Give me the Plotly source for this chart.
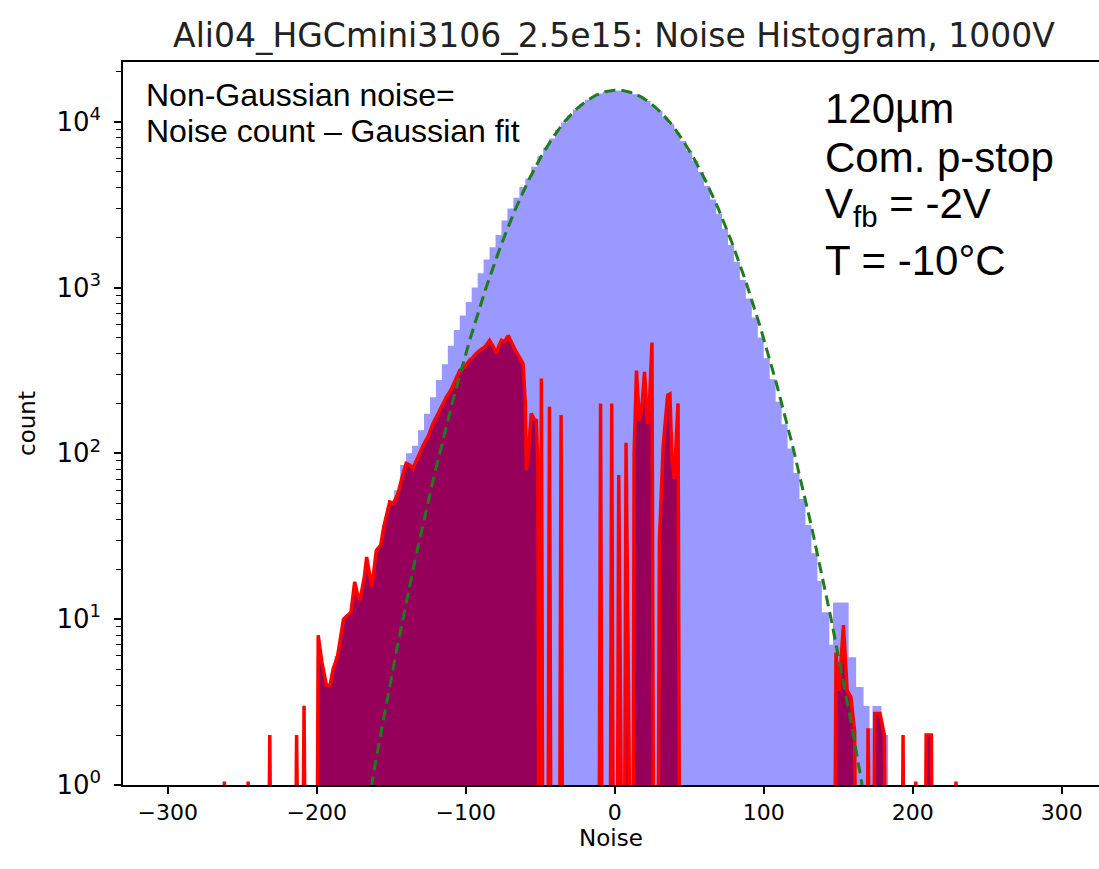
import numpy as np
import plotly.graph_objects as go

TITLE = "Ali04_HGCmini3106_2.5e15: Noise Histogram, 1000V"

# Blue histogram (noise counts): bin edges and counts
blue_edges = [-200, -196, -192, -188, -184, -180, -176, -172, -168, -164, -160, -156, -152,
              -148, -144, -140, -136, -132, -128, -124, -120, -116, -112, -108, -104, -100,
              -96, -92, -88, -84, -80, -76, -72, -68, -64, -60, -56, -52, -48, -44, -40, -36,
              -32, -28, -24, -20, -16, -12, -8, -4, 0, 4, 8, 12, 16, 20, 24, 28, 32, 36, 40,
              44, 48, 52, 56, 60, 64, 68, 72, 76, 80, 84, 88, 92, 96, 100, 104, 108, 112, 116,
              120, 124, 128, 132, 136, 139, 144, 146.5, 157, 162, 167, 171, 173, 179, 183.5]
blue_counts = [5, 4, 4, 6, 8, 10, 14, 13, 18, 16, 27, 37, 50, 60, 85, 100, 111, 138, 173,
               218, 277, 345, 446, 554, 679, 819, 1000, 1219, 1478, 1749, 2077, 2532, 2996,
               3477, 4045, 4522, 5355, 6186, 6990, 7910, 8900, 9903, 10890, 11845, 12740, 13540,
               14230, 14790, 15190, 15430, 15500, 15390, 15110, 14660, 14070, 13350, 12520,
               11610, 10650, 9660, 8650, 7650, 6700, 5810, 4980, 4100, 3400, 2790, 2260, 1810,
               1430, 1110, 860, 660, 500, 375, 280, 205, 150, 107, 76, 53, 37, 25,
               17, 11, 7, 12.6, 5.9, 3.9, 3, 2.2, 3, 2]

# Non-Gaussian noise (count - Gaussian fit)
red_x = [-264, -262, -260, -248, -246, -244, -233.5, -231.5, -229.5, -215.5, -213.5, -211.5,
         -210.5, -208.5, -206.5, -200.5, -199, -196.5, -193.5, -191, -189, -186, -183.5, -182,
         -179, -177, -174.5, -172.5, -171, -168, -166.5, -164.5, -163, -160, -157, -155, -153,
         -151, -148.5, -145.5, -143, -140, -137.5, -135.5, -132, -128.5, -125, -122, -119,
         -116, -113, -110, -107, -104, -101, -97.5, -95, -93, -90, -87, -84, -81.5, -79.5, -78,
         -76, -74, -71.5, -70, -68.5, -66, -64, -61.5, -60, -59.3, -58, -56, -54, -52.6, -51.5,
         -50.8, -49.2, -47.8, -45.3, -43.8, -42.3, -37.5, -36, -34.5,
         -11, -9.5, -8, -3.5, -2, -0.5, 1.2, 2.7, 4.2, 6, 7.6, 9.2, 12, 13, 14.6, 16.5, 18, 20,
         22, 23.5, 25, 26.5, 28.5, 30, 32.5, 35.5, 37, 38.5, 40, 42.5, 44,
         145.5, 146.8, 148.5, 150.5, 153.5, 156, 158.5, 161, 163, 168.5, 170, 171.5, 173, 174.5,
         178, 181, 183, 192, 193.5, 195, 200.5, 202, 203.5, 207.5, 209, 212.5, 214, 227.5, 229,
         230.5]
red_y = [0, 1.05, 0, 0, 1.05, 0, 0, 2, 0, 0, 2, 0,
         0, 3, 0, 0, 8, 5.5, 4, 4, 5, 6, 8, 10,
         10.6, 11, 16.8, 14, 13, 18, 23.7, 18, 15.6, 26, 28, 36, 42,
         51, 50, 57, 70, 87, 85, 81, 95, 112, 128, 151, 170,
         195, 218, 240, 275, 316, 330, 363, 380, 400, 420, 440, 480, 440, 400, 440,
         480, 470, 513, 480, 447, 407, 380, 347, 200, 79, 100, 174, 160, 158, 80,
         0, 283, 0, 0, 191, 0, 0, 170, 0,
         0, 200, 0, 0, 200, 0, 0, 74, 0, 0, 116, 0, 0, 100, 316, 158, 180, 310,
         150, 220, 466, 0, 0, 30, 110, 224, 228, 90, 70, 200, 0,
         0, 0, 6.3, 3.7, 9.2, 3.7, 3.4, 2.1, 0, 0, 2.2, 0, 0, 2.7,
         2.7, 2.0, 0, 0, 2.0, 0, 0, 1.05, 0, 0, 2.0, 2.0, 0, 0, 1.05,
         0]

# Gaussian fit parameters
gauss_amp = 15500
gauss_mean = 1.5
gauss_sigma = 37.5

# Axis ticks
x_ticks = [-300, -200, -100, 0, 100, 200, 300]
y_ticks = [1, 10, 100, 1000, 10000]
y_ticklabels = ["10<sup>0</sup>", "10<sup>1</sup>", "10<sup>2</sup>", "10<sup>3</sup>",
                "10<sup>4</sup>"]

FLOOR = 1e-2

# Build blue step outline
bx, by = [blue_edges[0]], [FLOOR]
for i, c in enumerate(blue_counts):
    bx += [blue_edges[i], blue_edges[i + 1]]
    by += [c, c]
bx.append(blue_edges[-1])
by.append(FLOOR)

ry = [v if v > 0 else FLOOR for v in red_y]

gx = np.linspace(-175, 175, 701)
gy = gauss_amp * np.exp(-(gx - gauss_mean) ** 2 / (2 * gauss_sigma ** 2))

fig = go.Figure()
fig.add_trace(go.Scatter(x=bx, y=by, mode="lines", fill="tozeroy",
                         fillcolor="#9999ff", line=dict(width=0, color="#9999ff"),
                         hoverinfo="skip", showlegend=False))
fig.add_trace(go.Scatter(x=red_x, y=ry, mode="lines", fill="tozeroy",
                         fillcolor="#96005a", line=dict(width=3.5, color="#ff0000"),
                         showlegend=False))
fig.add_trace(go.Scatter(x=gx, y=gy, mode="lines",
                         line=dict(width=3, color="#1e7b1e", dash="11px,6px"),
                         showlegend=False))

W, H = 1099, 869
L, R, T, B = 123, 0, 62, 84
pw, ph = W - L - R, H - T - B


def px(xp):
    return (xp - L) / pw


def py(yp):
    return (H - B - yp) / ph


ann_font = dict(family="Liberation Sans, Arial", size=32, color="black")
big_font = dict(family="Liberation Sans, Arial", size=42, color="black")
annotations = [
    dict(text="Non-Gaussian noise=", x=px(144), y=py(95), font=ann_font),
    dict(text="Noise count \u2013 Gaussian fit", x=px(144), y=py(131), font=ann_font),
    dict(text="120\u00b5m", x=px(823), y=py(108), font=big_font),
    dict(text="Com. p-stop", x=px(823), y=py(157), font=big_font),
    dict(text="V<sub>fb</sub> = -2V", x=px(823), y=py(207), font=big_font),
    dict(text="T = -10\u00b0C", x=px(823), y=py(260), font=big_font),
]
for a in annotations:
    a.update(xref="paper", yref="paper", xanchor="left", yanchor="middle",
             showarrow=False)

xtick_font = dict(family="DejaVu Sans", size=22, color="black")
ytick_font = dict(family="DejaVu Sans", size=26, color="black")
label_font = dict(family="DejaVu Sans", size=23, color="black")
fig.update_layout(
    width=W, height=H,
    margin=dict(l=L, r=R, t=T, b=B),
    plot_bgcolor="white", paper_bgcolor="white",
    title=dict(text=TITLE, x=614 / W, xanchor="center", y=1 - 35 / H, yanchor="middle",
               font=dict(family="DejaVu Sans", size=33, color="#222222")),
    annotations=annotations,
    xaxis=dict(range=[-330, 325], tickvals=x_ticks,
               ticks="outside", ticklen=7, tickwidth=1.5, tickcolor="black",
               showline=True, linecolor="black", linewidth=1.5, mirror=True,
               showgrid=False, zeroline=False, tickfont=xtick_font,
               title=dict(text="Noise", font=label_font, standoff=0)),
    yaxis=dict(type="log", range=[0, 4.36], tickvals=y_ticks, ticktext=y_ticklabels,
               ticks="outside", ticklen=7, tickwidth=1.5, tickcolor="black",
               ticklabelstandoff=8,
               minor=dict(ticks="outside", ticklen=5, tickwidth=1.2, tickcolor="black",
                          dtick="D1", showgrid=False),
               showline=True, linecolor="black", linewidth=1.5, mirror=False,
               showgrid=False, zeroline=False, tickfont=ytick_font,
               title=dict(text="count", font=label_font, standoff=14)),
)

fig.write_html("out.html")
